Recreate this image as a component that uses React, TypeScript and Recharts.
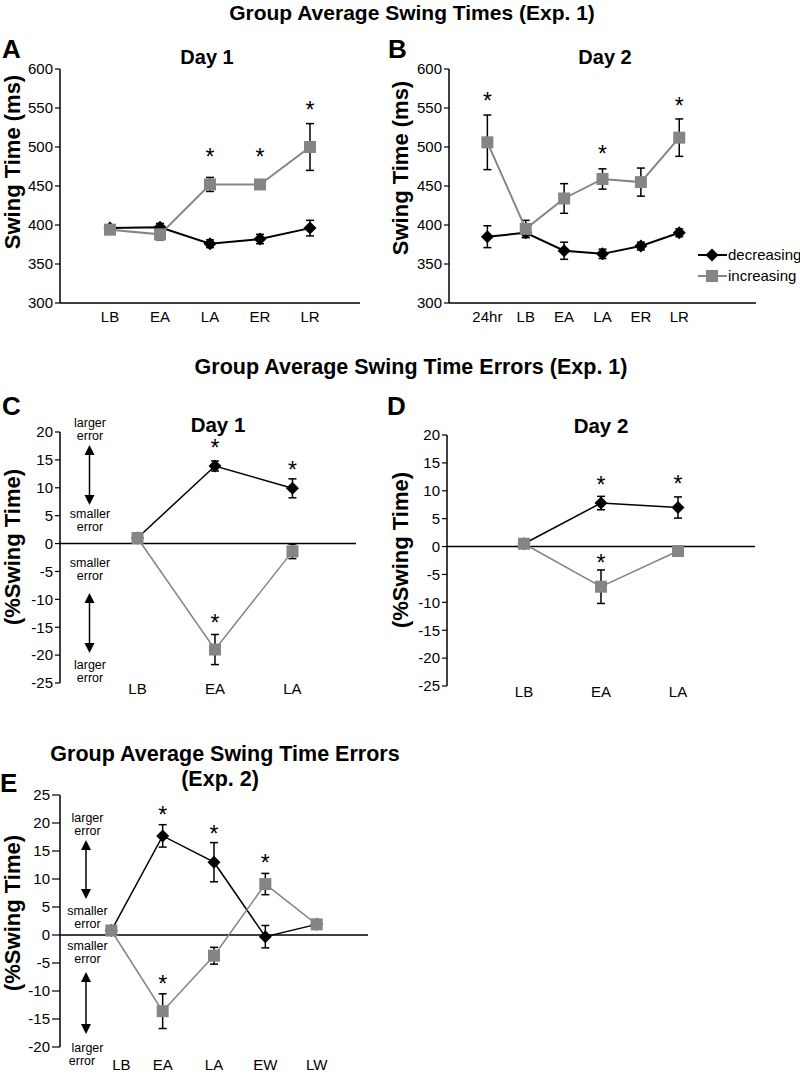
import React from 'react'
import { ComposedChart, Line, Scatter, XAxis, YAxis, ErrorBar, ReferenceLine, Legend } from 'recharts'

const FONT = '"Liberation Sans", Arial, sans-serif'
const GRAY = '#858585'

// A: Day 1 swing times (ms)
const catsA = ['LB', 'EA', 'LA', 'ER', 'LR']
const decA = [396, 397, 376, 382, 396]
const decAErr = [4, 5, 5, 6, 10]
const incA = [394, 388, 452, 452, 500]
const incAErr = [3, 7, 9, 3, 30]
const starsA = [{ x: 3, y: 493 }, { x: 4, y: 493 }, { x: 5, y: 554 }]

// B: Day 2 swing times (ms)
const catsB = ['24hr', 'LB', 'EA', 'LA', 'ER', 'LR']
const decB = [385, 390, 367, 363, 373, 390]
const decBErr = [14, 6, 11, 6, 5, 5]
const incB = [506, 395, 434, 459, 455, 512]
const incBErr = [35, 11, 19, 13, 18, 24]
const starsB = [{ x: 1, y: 565 }, { x: 4, y: 498 }, { x: 6, y: 559 }]

// C: Day 1 errors (%)
const catsC = ['LB', 'EA', 'LA']
const decC = [1.0, 13.9, 9.9]
const decCErr = [0, 0.9, 1.7]
const incC = [1.0, -19.0, -1.4]
const incCErr = [0, 2.7, 1.3]
const starsC = [{ x: 2, y: 18 }, { x: 3, y: 14 }, { x: 2, y: -13.3 }]

// D: Day 2 errors (%)
const catsD = ['LB', 'EA', 'LA']
const decD = [0.5, 7.8, 7.0]
const decDErr = [0, 1.2, 1.9]
const incD = [0.5, -7.2, -0.8]
const incDErr = [0, 3.0, 0.5]
const starsD = [{ x: 2, y: 12 }, { x: 3, y: 12.1 }, { x: 2, y: -2.1 }]

// E: Exp. 2 errors (%)
const catsE = ['LB', 'EA', 'LA', 'EW', 'LW']
const decE = [0.8, 17.7, 13.0, -0.3, 1.9]
const decEErr = [0, 2.0, 3.5, 2.0, 0.5]
const incE = [0.8, -13.6, -3.7, 9.1, 1.9]
const incEErr = [0, 3.1, 1.5, 1.9, 0.5]
const starsE = [{ x: 2, y: 22.3 }, { x: 3, y: 19 }, { x: 4, y: 13.7 }, { x: 2, y: -7.9 }]

const ticksMs = [300, 350, 400, 450, 500, 550, 600]
const ticksPct = [-25, -20, -15, -10, -5, 0, 5, 10, 15, 20]
const ticksPctE = [-20, -15, -10, -5, 0, 5, 10, 15, 20, 25]

function rows(cats: string[], dec: number[], decErr: number[], inc: number[], incErr: number[]) {
  return cats.map((c, i) => ({ x: i + 1, cat: c, dec: dec[i], decErr: decErr[i], inc: inc[i], incErr: incErr[i] }))
}

const diamond = (p: any) => (
  <polygon key={'d' + p.index} points={`${p.cx},${p.cy - 6.5} ${p.cx + 6.5},${p.cy} ${p.cx},${p.cy + 6.5} ${p.cx - 6.5},${p.cy}`} fill="#000" />
)
const square = (p: any) => (
  <rect key={'s' + p.index} x={p.cx - 6} y={p.cy - 6} width={12} height={12} fill={GRAY} />
)
const star = (p: any) => (
  <text x={p.cx} y={p.cy + 13} textAnchor="middle" fontSize={23} fontFamily={FONT} fill="#000">*</text>
)

function LegendBox({ payload }: any) {
  const items = (payload || []).filter((p: any) => p.dataKey === 'dec' || p.dataKey === 'inc')
  return (
    <div style={{ fontFamily: FONT, fontSize: 15, color: '#000' }}>
      {items.map((it: any) => (
        <div key={it.value} style={{ display: 'flex', alignItems: 'center', height: 21 }}>
          <svg width={29} height={14} style={{ display: 'block' }}>
            <line x1={0} y1={7} x2={29} y2={7} stroke={it.dataKey === 'dec' ? '#000' : GRAY} strokeWidth={2} />
            {it.dataKey === 'dec'
              ? <polygon points="14,0.5 20.5,7 14,13.5 7.5,7" fill="#000" />
              : <rect x={8} y={1} width={12} height={12} fill={GRAY} />}
          </svg>
          <span style={{ marginLeft: 1 }}>{it.value}</span>
        </div>
      ))}
    </div>
  )
}

type PanelProps = {
  left: number; top: number; width: number; height: number
  margin: { top: number; right: number; bottom: number; left: number }
  data: any[]; cats: string[]; xDomain: number[]
  yDomain: number[]; yTicks: number[]; stars: { x: number; y: number }[]
  lineW: number; timeAxis: boolean; xTickMargin: number; xHeight: number
  firstShift?: number; legend?: boolean; yTickSize: number
}

function Panel(p: PanelProps) {
  const tick = (t: any) => (
    <text x={t.x + (t.payload.value === 1 ? p.firstShift || 0 : 0)} y={t.y} dy="0.71em" textAnchor="middle"
      fontSize={15} fontFamily={FONT} fill="#000">{p.cats[t.payload.value - 1]}</text>
  )
  return (
    <div style={{ position: 'absolute', left: p.left, top: p.top }}>
      <ComposedChart width={p.width} height={p.height} data={p.data} margin={p.margin}>
        <XAxis dataKey="x" type="number" domain={p.xDomain} ticks={p.cats.map((_, i) => i + 1)} interval={0}
          height={p.xHeight} tick={tick} tickLine={false} tickSize={p.timeAxis ? 6 : 0} tickMargin={p.xTickMargin}
          axisLine={p.timeAxis ? { stroke: '#000', strokeWidth: 1.5 } : false} allowDataOverflow />
        <YAxis type="number" domain={p.yDomain} ticks={p.yTicks} interval={0} width={40} tickSize={p.yTickSize} tickMargin={2}
          axisLine={{ stroke: '#000', strokeWidth: 1.5 }} tickLine={{ stroke: '#000', strokeWidth: 1.2 }}
          tick={{ fontSize: 15, fill: '#000', fontFamily: FONT }} allowDataOverflow />
        {!p.timeAxis && <ReferenceLine y={0} stroke="#000" strokeWidth={1.5} />}
        <Line dataKey="dec" name="decreasing" stroke="#000" strokeWidth={p.lineW} dot={diamond} activeDot={false} isAnimationActive={false}>
          <ErrorBar dataKey="decErr" direction="y" width={4} stroke="#000" strokeWidth={1.5} />
        </Line>
        <Line dataKey="inc" name="increasing" stroke={GRAY} strokeWidth={p.lineW} dot={square} activeDot={false} isAnimationActive={false}>
          <ErrorBar dataKey="incErr" direction="y" width={4} stroke="#000" strokeWidth={1.5} />
        </Line>
        <Scatter data={p.stars} dataKey="y" shape={star} legendType="none" isAnimationActive={false} />
        {p.legend && (
          <Legend layout="vertical" align="center" verticalAlign="middle" content={<LegendBox />}
            wrapperStyle={{ position: 'absolute', left: 298, top: 244, width: 110 }} />
        )}
      </ComposedChart>
    </div>
  )
}

function Arrow({ x, y1, y2 }: { x: number; y1: number; y2: number }) {
  return (
    <g>
      <line x1={x} y1={y1 + 6} x2={x} y2={y2 - 6} stroke="#000" strokeWidth={1.5} />
      <polygon points={`${x},${y1} ${x + 5},${y1 + 10} ${x - 5},${y1 + 10}`} fill="#000" />
      <polygon points={`${x},${y2} ${x + 5},${y2 - 10} ${x - 5},${y2 - 10}`} fill="#000" />
    </g>
  )
}

function Note({ x, y, lines, size = 12.5 }: { x: number; y: number[]; lines: string[]; size?: number }) {
  return (
    <g>
      {lines.map((l, i) => (
        <text key={i} x={x} y={y[i]} textAnchor="middle" fontSize={size} fontFamily={FONT} fill="#000">{l}</text>
      ))}
    </g>
  )
}

export default function App() {
  const bold = { fontFamily: FONT, fontWeight: 700, fill: '#000' } as const
  return (
    <div style={{ position: 'absolute', left: 0, top: 0, width: 800, height: 1075, background: '#fff', fontFamily: FONT, overflow: 'hidden' }}>
      <Panel left={0} top={0} width={400} height={340} margin={{ top: 69, right: 40, bottom: 7, left: 20 }}
        data={rows(catsA, decA, decAErr, incA, incAErr)} cats={catsA} xDomain={[0, 6]}
        yDomain={[300, 600]} yTicks={ticksMs} stars={starsA} lineW={2} timeAxis xTickMargin={2} xHeight={30} yTickSize={5} />
      <Panel left={400} top={0} width={400} height={340} margin={{ top: 69, right: 44, bottom: 7, left: 9 }}
        data={rows(catsB, decB, decBErr, incB, incBErr)} cats={catsB} xDomain={[0, 8]}
        yDomain={[300, 600]} yTicks={ticksMs} stars={starsB} lineW={2} timeAxis xTickMargin={2} xHeight={30} yTickSize={5} legend />
      <Panel left={0} top={370} width={400} height={340} margin={{ top: 62, right: 44, bottom: 7, left: 20 }}
        data={rows(catsC, decC, decCErr, incC, incCErr)} cats={catsC} xDomain={[0, 3.82]}
        yDomain={[-25, 20]} yTicks={ticksPct} stars={starsC} lineW={1.5} timeAxis={false} xTickMargin={0} xHeight={20} yTickSize={5} />
      <Panel left={400} top={370} width={400} height={340} margin={{ top: 65, right: 45, bottom: 4, left: 7 }}
        data={rows(catsD, decD, decDErr, incD, incDErr)} cats={catsD} xDomain={[0, 4]}
        yDomain={[-25, 20]} yTicks={ticksPct} stars={starsD} lineW={1.5} timeAxis={false} xTickMargin={0} xHeight={20} yTickSize={5} />
      <Panel left={0} top={740} width={400} height={335} margin={{ top: 55, right: 32, bottom: 3, left: 20 }}
        data={rows(catsE, decE, decEErr, incE, incEErr)} cats={catsE} xDomain={[0, 6]}
        yDomain={[-20, 25]} yTicks={ticksPctE} stars={starsE} lineW={1.5} timeAxis={false} xTickMargin={12} xHeight={25} yTickSize={8} firstShift={10} />

      <svg width={800} height={1075} style={{ position: 'absolute', left: 0, top: 0, pointerEvents: 'none' }}>
        <text x={412} y={20} textAnchor="middle" fontSize={21} {...bold}>Group Average Swing Times (Exp. 1)</text>
        <text x={411} y={374} textAnchor="middle" fontSize={21.5} {...bold}>Group Average Swing Time Errors (Exp. 1)</text>
        <text x={225} y={761} textAnchor="middle" fontSize={21.5} {...bold}>Group Average Swing Time Errors</text>
        <text x={220} y={786} textAnchor="middle" fontSize={21.5} {...bold}>(Exp. 2)</text>

        <text x={2} y={58} fontSize={26} {...bold}>A</text>
        <text x={388} y={58} fontSize={26} {...bold}>B</text>
        <text x={2} y={415} fontSize={26} {...bold}>C</text>
        <text x={387} y={415} fontSize={26} {...bold}>D</text>
        <text x={0} y={792} fontSize={26} {...bold}>E</text>

        <text x={207} y={64} textAnchor="middle" fontSize={20} {...bold}>Day 1</text>
        <text x={605} y={64} textAnchor="middle" fontSize={20} {...bold}>Day 2</text>
        <text x={218} y={432} textAnchor="middle" fontSize={20.5} {...bold}>Day 1</text>
        <text x={601} y={433} textAnchor="middle" fontSize={20.5} {...bold}>Day 2</text>

        <text x={20} y={162} transform="rotate(-90 20 162)" textAnchor="middle" fontSize={22} {...bold}>Swing Time (ms)</text>
        <text x={408} y={168} transform="rotate(-90 408 168)" textAnchor="middle" fontSize={22} {...bold}>Swing Time (ms)</text>
        <text x={20} y={547} transform="rotate(-90 20 547)" textAnchor="middle" fontSize={22} {...bold}>(%Swing Time)</text>
        <text x={408} y={550} transform="rotate(-90 408 550)" textAnchor="middle" fontSize={22} {...bold}>(%Swing Time)</text>
        <text x={20} y={913} transform="rotate(-90 20 913)" textAnchor="middle" fontSize={22} {...bold}>(%Swing Time)</text>

        <Note x={90} y={[427, 440]} lines={['larger', 'error']} />
        <Arrow x={89.5} y1={445} y2={505} />
        <Note x={90} y={[518, 531]} lines={['smaller', 'error']} />
        <Note x={90} y={[567, 580]} lines={['smaller', 'error']} />
        <Arrow x={89.5} y1={593} y2={653} />
        <Note x={90} y={[669, 682]} lines={['larger', 'error']} />

        <Note x={87.5} y={[822, 835]} lines={['larger', 'error']} />
        <Arrow x={86} y1={840} y2={899} />
        <Note x={87.5} y={[915, 928]} lines={['smaller', 'error']} />
        <Note x={87.5} y={[950, 963]} lines={['smaller', 'error']} />
        <Arrow x={86} y1={972} y2={1034} />
        <Note x={87.5} y={[1052]} lines={['larger']} />
        <Note x={82} y={[1065]} lines={['error']} />
      </svg>
    </div>
  )
}
